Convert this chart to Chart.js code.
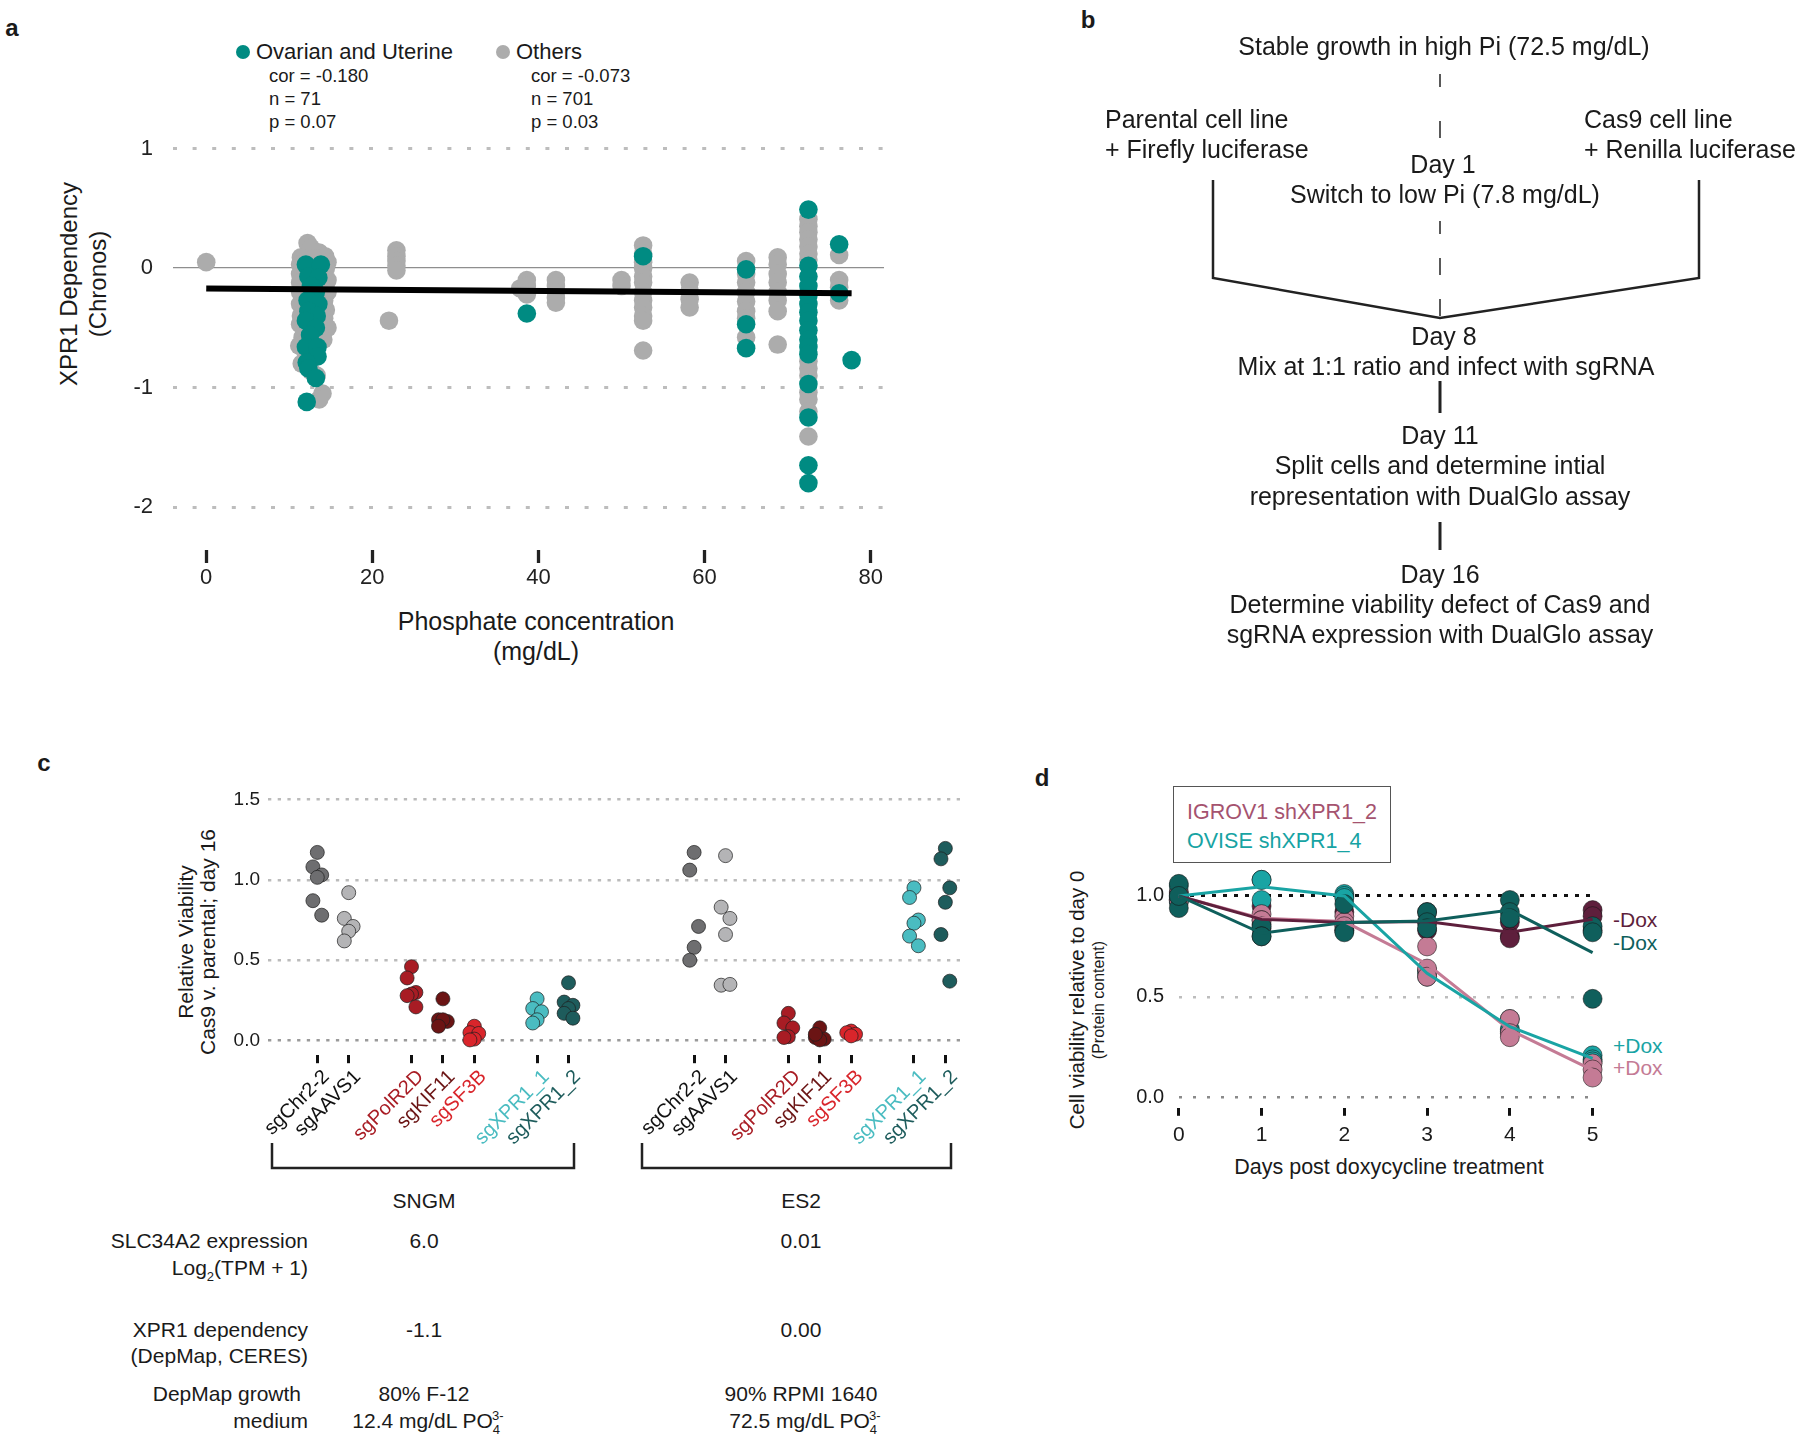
<!DOCTYPE html>
<html>
<head>
<meta charset="utf-8">
<script src="https://cdn.jsdelivr.net/npm/chart.js@4.4.1/dist/chart.umd.min.js"></script>
<style>
body { margin: 0; background: #fff; }
#page { position: relative; width: 1800px; height: 1442px; overflow: hidden; font-family: "Liberation Sans", Arial, sans-serif; color: #1a1a1a; }
canvas { position: absolute; }
.t { position: absolute; white-space: nowrap; line-height: 1; }
.c { transform: translate(-50%, -50%); }
.r { transform: translate(-100%, -50%); }
.l { transform: translate(0, -50%); }
.v { transform: translate(-50%, -50%) rotate(-90deg); }
.lab { font-weight: bold; font-size: 24px; }
.dot { position: absolute; width: 14px; height: 14px; border-radius: 50%; }
.sub { font-size: 13px; position: relative; top: 6px; }
.sup { font-size: 13px; position: relative; top: -8px; margin-left: -8px; }
.fb { font-size: 25px; background: #fff; }
.tb { font-size: 21px; }
</style>
</head>
<body>
<div id="page">

<!-- panel a -->
<div class="t c lab" style="left:12px;top:28px">a</div>
<div class="dot" style="left:236px;top:45px;background:#008B82"></div>
<div class="t l" style="left:256px;top:52px;font-size:22px">Ovarian and Uterine</div>
<div class="dot" style="left:496px;top:45px;background:#ACACAC"></div>
<div class="t l" style="left:516px;top:52px;font-size:22px">Others</div>
<div class="t l" style="left:269px;top:76px;font-size:18.5px">cor = -0.180</div>
<div class="t l" style="left:269px;top:99px;font-size:18.5px">n = 71</div>
<div class="t l" style="left:269px;top:122px;font-size:18.5px">p = 0.07</div>
<div class="t l" style="left:531px;top:76px;font-size:18.5px">cor = -0.073</div>
<div class="t l" style="left:531px;top:99px;font-size:18.5px">n = 701</div>
<div class="t l" style="left:531px;top:122px;font-size:18.5px">p = 0.03</div>
<div class="t v" style="left:69px;top:284px;font-size:24px">XPR1 Dependency</div>
<div class="t v" style="left:98px;top:284px;font-size:24px">(Chronos)</div>
<div class="t c" style="left:536px;top:621px;font-size:25px">Phosphate concentration</div>
<div class="t c" style="left:536px;top:651px;font-size:25px">(mg/dL)</div>
<canvas id="chartA" width="900" height="700" style="left:0;top:0"></canvas>

<!-- panel b -->
<div class="t c lab" style="left:1088px;top:20px">b</div>
<svg style="position:absolute;left:0;top:0" width="1800" height="700">
  <g stroke="#222" fill="none">
    <line x1="1440" y1="74" x2="1440" y2="87" stroke-width="1.5"/>
    <line x1="1440" y1="121" x2="1440" y2="138" stroke-width="1.5"/>
    <line x1="1440" y1="221" x2="1440" y2="234" stroke-width="1.5"/>
    <line x1="1440" y1="258" x2="1440" y2="275" stroke-width="1.5"/>
    <line x1="1440" y1="299" x2="1440" y2="316" stroke-width="1.5"/>
    <polyline points="1213,180 1213,278 1440,318 1699,278 1699,180" stroke-width="2.5"/>
    <line x1="1440" y1="381" x2="1440" y2="413" stroke-width="3"/>
    <line x1="1440" y1="522" x2="1440" y2="550" stroke-width="3"/>
  </g>
</svg>
<div class="t c fb" style="left:1444px;top:46px">Stable growth in high Pi (72.5 mg/dL)</div>
<div class="t l fb" style="left:1105px;top:119px">Parental cell line</div>
<div class="t l fb" style="left:1105px;top:149px">+ Firefly luciferase</div>
<div class="t l fb" style="left:1584px;top:119px">Cas9 cell line</div>
<div class="t l fb" style="left:1584px;top:149px">+ Renilla luciferase</div>
<div class="t c fb" style="left:1443px;top:164px">Day 1</div>
<div class="t c fb" style="left:1445px;top:194px">Switch to low Pi (7.8 mg/dL)</div>
<div class="t c fb" style="left:1444px;top:336px">Day 8</div>
<div class="t c fb" style="left:1446px;top:366px">Mix at 1:1 ratio and infect with sgRNA</div>
<div class="t c fb" style="left:1440px;top:435px">Day 11</div>
<div class="t c fb" style="left:1440px;top:465px">Split cells and determine intial</div>
<div class="t c fb" style="left:1440px;top:496px">representation with DualGlo assay</div>
<div class="t c fb" style="left:1440px;top:574px">Day 16</div>
<div class="t c fb" style="left:1440px;top:604px">Determine viability defect of Cas9 and</div>
<div class="t c fb" style="left:1440px;top:634px">sgRNA expression with DualGlo assay</div>

<!-- panel c -->
<div class="t c lab" style="left:44px;top:763px">c</div>
<div class="t v" style="left:185px;top:942px;font-size:21px">Relative Viability</div>
<div class="t v" style="left:207px;top:942px;font-size:21px">Cas9 v. parental; day 16</div>
<canvas id="chartC" width="1000" height="400" style="left:0;top:760px"></canvas>
<svg style="position:absolute;left:0;top:1130px" width="1000" height="50">
  <g stroke="#222" fill="none" stroke-width="2.5">
    <polyline points="272,13 272,38 574,38 574,13"/>
    <polyline points="642,13 642,38 951,38 951,13"/>
  </g>
</svg>
<div class="t c tb" style="left:424px;top:1200px">SNGM</div>
<div class="t c tb" style="left:801px;top:1200px">ES2</div>
<div class="t r tb" style="left:308px;top:1240px">SLC34A2 expression</div>
<div class="t r tb" style="left:308px;top:1267px">Log<span class="sub">2</span>(TPM + 1)</div>
<div class="t c tb" style="left:424px;top:1240px">6.0</div>
<div class="t c tb" style="left:801px;top:1240px">0.01</div>
<div class="t r tb" style="left:308px;top:1329px">XPR1 dependency</div>
<div class="t r tb" style="left:308px;top:1355px">(DepMap, CERES)</div>
<div class="t c tb" style="left:424px;top:1329px">-1.1</div>
<div class="t c tb" style="left:801px;top:1329px">0.00</div>
<div class="t r tb" style="left:301px;top:1393px">DepMap growth</div>
<div class="t r tb" style="left:308px;top:1420px">medium</div>
<div class="t c tb" style="left:424px;top:1393px">80% F-12</div>
<div class="t c tb" style="left:428px;top:1420px">12.4 mg/dL PO<span class="sub">4</span><span class="sup">3-</span></div>
<div class="t c tb" style="left:801px;top:1393px">90% RPMI 1640</div>
<div class="t c tb" style="left:805px;top:1420px">72.5 mg/dL PO<span class="sub">4</span><span class="sup">3-</span></div>

<!-- panel d -->
<div class="t c lab" style="left:1042px;top:778px">d</div>
<div style="position:absolute;left:1173px;top:786px;width:216px;height:75px;border:1.5px solid #555"></div>
<div class="t l" style="left:1187px;top:813px;font-size:21.5px;color:#A5536F">IGROV1 shXPR1_2</div>
<div class="t l" style="left:1187px;top:842px;font-size:21.5px;color:#17A3A3">OVISE shXPR1_4</div>
<div class="t v" style="left:1077px;top:1000px;font-size:20.5px">Cell viability relative to day 0</div>
<div class="t v" style="left:1099px;top:1000px;font-size:16px">(Protein content)</div>
<div class="t c" style="left:1389px;top:1168px;font-size:21.5px">Days post doxycycline treatment</div>
<div class="t l" style="left:1613px;top:919px;font-size:21px;color:#5E1F3C">-Dox</div>
<div class="t l" style="left:1613px;top:942px;font-size:21px;color:#0F5F5C">-Dox</div>
<div class="t l" style="left:1613px;top:1045px;font-size:21px;color:#19A4A4">+Dox</div>
<div class="t l" style="left:1613px;top:1067px;font-size:21px;color:#C47B95">+Dox</div>
<canvas id="chartD" width="520" height="320" style="left:1100px;top:840px"></canvas>

</div>
<script>
// ---- panel a: XPR1 dependency vs phosphate ----
const ovuX = [12.0, 13.8, 12.3, 13.5, 12.6, 13.2, 12.2, 13.5, 12.3, 13.3, 12.0, 13.2, 12.5, 12.0, 13.4, 13.4, 12.1, 12.3, 13.2, 12.1,
  38.6, 52.6, 65.0, 65.0, 65.0,
  72.5, 72.5, 72.5, 72.5, 72.5, 72.5, 72.5, 72.5, 72.5, 72.5, 72.5, 72.5, 72.5, 72.5, 72.5, 72.5,
  76.2, 76.2, 77.7];
const ovuY = [0.03, 0.03, -0.07, -0.08, -0.15, -0.2, -0.27, -0.3, -0.36, -0.4, -0.44, -0.5, -0.56, -0.66, -0.66, -0.74, -0.79, -0.84, -0.92, -1.12,
  -0.38, 0.1, -0.01, -0.47, -0.67,
  0.49, 0.02, -0.07, -0.15, -0.23, -0.3, -0.37, -0.44, -0.52, -0.6, -0.66, -0.72, -0.97, -1.25, -1.65, -1.8,
  0.2, -0.21, -0.77];
const othX = [0,
  12.2, 12.6, 13.6, 14.3, 11.4, 12.9, 14.6, 11.3, 14.4, 11.3, 14.6, 11.3, 14.6, 11.3, 14.2, 11.3, 14.4, 11.4, 14.2, 11.3, 14.6, 11.6, 14.1, 11.2, 12.0, 11.5, 12.6, 13.3, 14.0, 13.6, 11.8, 12.8,
  22.0, 22.9, 22.9, 22.9, 22.9, 22.9,
  37.8, 38.6, 38.6, 38.6,
  42.1, 42.1, 42.1, 42.1, 42.1,
  50.0, 50.0,
  52.6, 52.6, 52.6, 52.6, 52.6, 52.6, 52.6, 52.6, 52.6, 52.6, 52.6, 52.6,
  58.2, 58.2, 58.2, 58.2,
  65.0, 65.0, 65.0, 65.0, 65.0, 65.0, 65.0, 65.0,
  68.8, 68.8, 68.8, 68.8, 68.8, 68.8, 68.8, 68.8,
  72.5, 72.5, 72.5, 72.5, 72.5, 72.5, 72.5, 72.5, 72.5, 72.5, 72.5, 72.5, 72.5, 72.5,
  76.2, 76.2, 76.2, 76.2];
const othY = [0.05,
  0.21, 0.17, 0.13, 0.1, 0.09, 0.08, 0.05, 0.03, 0.0, -0.05, -0.1, -0.12, -0.2, -0.2, -0.27, -0.3, -0.35, -0.4, -0.42, -0.47, -0.5, -0.58, -0.6, -0.65, -0.72, -0.8, -0.86, -0.9, -1.05, -1.1, -0.35, -0.05,
  -0.44, 0.15, 0.1, 0.06, 0.02, -0.02,
  -0.17, -0.1, -0.15, -0.22,
  -0.1, -0.15, -0.2, -0.25, -0.29,
  -0.1, -0.15,
  0.19, 0.12, 0.05, 0.0, -0.07, -0.12, -0.2, -0.27, -0.33, -0.4, -0.44, -0.69,
  -0.12, -0.19, -0.26, -0.33,
  0.06, -0.05, -0.12, -0.2, -0.28, -0.36, -0.42, -0.58,
  0.09, 0.03, -0.05, -0.12, -0.2, -0.27, -0.36, -0.64,
  0.41, 0.35, 0.3, 0.24, 0.18, 0.12, 0.07, -0.78, -0.84, -0.9, -1.04, -1.1, -1.2, -1.41,
  0.11, -0.1, -0.16, -0.27];
const fitX = [0, 77.7];
const fitY = [-0.17, -0.21];
const xTicksA = [0, 20, 40, 60, 80];
const yTicksA = [1, 0, -1, -2];

// ---- panel c: relative viability per sgRNA ----
const slotLabels = ['sgChr2-2', 'sgAAVS1', '', 'sgPolR2D', 'sgKIF11', 'sgSF3B', '', 'sgXPR1_1', 'sgXPR1_2', '', '', '',
  'sgChr2-2', 'sgAAVS1', '', 'sgPolR2D', 'sgKIF11', 'sgSF3B', '', 'sgXPR1_1', 'sgXPR1_2'];
const guides = ['sgChr2-2', 'sgAAVS1', 'sgPolR2D', 'sgKIF11', 'sgSF3B', 'sgXPR1_1', 'sgXPR1_2'];
const sngmViability = [
  [1.17, 1.08, 1.03, 1.015, 0.87, 0.78],
  [0.92, 0.76, 0.71, 0.68, 0.62],
  [0.46, 0.39, 0.30, 0.29, 0.28, 0.21],
  [0.26, 0.13, 0.12, 0.13, 0.09],
  [0.09, 0.05, 0.045, 0.01, 0.005],
  [0.26, 0.20, 0.18, 0.13, 0.11],
  [0.36, 0.24, 0.22, 0.20, 0.17, 0.14]
];
const es2Viability = [
  [1.17, 1.06, 0.71, 0.58, 0.50],
  [1.15, 0.83, 0.76, 0.66, 0.345, 0.35],
  [0.17, 0.11, 0.08, 0.025, 0.02],
  [0.08, 0.02, 0.01, 0.005, 0.04],
  [0.06, 0.05, 0.04, 0.03],
  [0.95, 0.89, 0.75, 0.73, 0.65, 0.59],
  [1.195, 1.13, 0.95, 0.86, 0.66, 0.37]
];
const yTicksC = [0, 0.5, 1, 1.5];

// ---- panel d: viability over doxycycline time course ----
const days = [0, 1, 2, 3, 4, 5];
const igrovMinusMean = [1.0, 0.884, 0.868, 0.873, 0.82, 0.885];
const igrovPlusMean = [1.0, 0.889, 0.873, 0.663, 0.336, 0.137];
const oviseMinusMean = [1.0, 0.815, 0.868, 0.876, 0.93, 0.719];
const ovisePlusMean = [1.0, 1.046, 1.0, 0.617, 0.352, 0.195];
const igrovMinusReps = [[1.02, 0.99, 0.98], [0.95, 0.86, 0.84], [0.92, 0.86, 0.83], [0.92, 0.87, 0.83], [0.87, 0.80, 0.79], [0.93, 0.90, 0.83]];
const igrovPlusReps = [[1.01, 0.98, 1.0], [0.91, 0.88, 0.88], [0.90, 0.87, 0.85], [0.75, 0.64, 0.60], [0.39, 0.32, 0.30], [0.17, 0.14, 0.10]];
const oviseMinusReps = [[1.06, 0.94, 1.0], [0.85, 0.80, 0.80], [0.96, 0.83, 0.82], [0.92, 0.87, 0.84], [0.98, 0.92, 0.89], [0.85, 0.82, 0.49]];
const ovisePlusReps = [[1.05, 0.98, 0.97], [1.08, 1.08, 0.98], [1.01, 1.0, 0.99], [0.63, 0.62, 0.60], [0.39, 0.34, 0.33], [0.21, 0.19, 0.18]];
const yTicksD = [0, 0.5, 1];

Chart.defaults.font.family = '"Liberation Sans", Arial, sans-serif';
Chart.defaults.color = '#1a1a1a';

const base = {
  responsive: false,
  animation: false,
  events: [],
  plugins: { legend: { display: false }, tooltip: { enabled: false } }
};
const setTicks = list => scale => { scale.ticks = list.map(v => ({ value: v })); };
const zip = (xs, ys) => xs.map((x, i) => ({ x: x, y: ys[i] }));

// panel a
new Chart(document.getElementById('chartA'), {
  type: 'scatter',
  data: {
    datasets: [
      { data: zip(fitX, fitY), showLine: true, borderColor: '#000', borderWidth: 6, pointRadius: 0, order: 0, clip: false },
      { data: zip(ovuX, ovuY), backgroundColor: '#008B82', pointRadius: 9.3, borderWidth: 0, order: 1, clip: false },
      { data: zip(othX, othY), backgroundColor: '#ACACAC', pointRadius: 9.3, borderWidth: 0, order: 2, clip: false }
    ]
  },
  options: {
    ...base,
    layout: { padding: { top: 148.7, right: 16, left: 0, bottom: 0 } },
    scales: {
      x: {
        type: 'linear', min: -4, max: 81.6,
        afterBuildTicks: setTicks(xTicksA),
        afterFit: s => { s.height = 150; },
        grid: { drawOnChartArea: false, drawTicks: true, tickLength: 13, tickWidth: 3.3, tickColor: '#222' },
        border: { display: false },
        ticks: { padding: 2, color: '#222', font: { size: 22 }, autoSkip: false, maxRotation: 0 }
      },
      y: {
        min: -2.36, max: 1,
        afterBuildTicks: setTicks(yTicksA),
        afterFit: s => { s.width = 173; },
        grid: {
          drawTicks: false,
          color: c => (c.tick && c.tick.value === 0) ? '#8E8E8E' : '#BDBDBD',
          lineWidth: c => (c.tick && c.tick.value === 0) ? 1.3 : 3
        },
        border: { display: false, dash: c => (c.tick && c.tick.value === 0) ? [] : [4, 15.6] },
        ticks: { padding: 20, color: '#222', font: { size: 22 } }
      }
    }
  }
});

// panel c
const guideColors = ['#6E6E70', '#B4B4B6', '#A81C24', '#6B1414', '#D9252B', '#4ABCC1', '#1E5C5C'];
const labelColors = ['#111', '#111', '#A81C24', '#6B1414', '#D9252B', '#4ABCC1', '#1E5C5C'];
const jitter = [0, -0.14, 0.14, 0, -0.14, 0.14];
const cDatasets = guides.map((g, gi) => {
  const s1 = slotLabels.indexOf(g);
  const s2 = slotLabels.lastIndexOf(g);
  const pts = sngmViability[gi].map((v, i) => ({ x: s1 + jitter[i % jitter.length], y: v }))
    .concat(es2Viability[gi].map((v, i) => ({ x: s2 + jitter[i % jitter.length], y: v })));
  return { data: pts, backgroundColor: guideColors[gi], borderColor: 'rgba(30,30,30,0.7)', borderWidth: 1, pointRadius: 7, clip: false };
});
new Chart(document.getElementById('chartC'), {
  type: 'scatter',
  data: { datasets: cDatasets },
  options: {
    ...base,
    layout: { padding: { top: 39.3, right: 38, left: 0, bottom: 0 } },
    scales: {
      x: {
        type: 'linear', min: -1.57, max: 20.53,
        afterBuildTicks: s => { s.ticks = slotLabels.map((l, i) => ({ value: i, l: l })).filter(t => t.l !== '').map(t => ({ value: t.value })); },
        afterFit: s => { s.height = 104.8; },
        grid: { drawOnChartArea: false, drawTicks: true, tickLength: 8, tickWidth: 3, tickColor: '#111' },
        border: { display: false },
        ticks: {
          autoSkip: false, minRotation: 45, maxRotation: 45, padding: 2, labelOffset: 9, font: { size: 20 },
          callback: v => slotLabels[v],
          color: c => labelColors[guides.indexOf(slotLabels[c.tick.value])]
        }
      },
      y: {
        min: -0.09, max: 1.5,
        afterBuildTicks: setTicks(yTicksC),
        afterFit: s => { s.width = 268; },
        grid: {
          drawTicks: false,
          color: c => (c.tick && c.tick.value === 0) ? '#9A9A9A' : '#BBBBBB',
          lineWidth: 2.5
        },
        border: { display: false, dash: [3.3, 6.4] },
        ticks: { padding: 8, color: '#1a1a1a', font: { size: 19 }, callback: v => v.toFixed(1) }
      }
    }
  }
});

// panel d
const dColors = { igrovMinus: '#5E1F3C', igrovPlus: '#C47B95', oviseMinus: '#0F5F5C', ovisePlus: '#19A4A4' };
const repPoints = reps => reps.flatMap((r, i) => r.map(v => ({ x: days[i], y: v })));
const meanLine = (vals, col, ord) => ({ data: zip(days, vals), showLine: true, borderColor: col, borderWidth: 3, pointRadius: 0, order: ord, clip: false });
const repSet = (reps, col, ord) => ({ data: repPoints(reps), backgroundColor: col, borderColor: 'rgba(20,20,20,0.55)', borderWidth: 1, pointRadius: 9.5, order: ord, clip: false });
new Chart(document.getElementById('chartD'), {
  type: 'scatter',
  data: {
    datasets: [
      meanLine(oviseMinusMean, dColors.oviseMinus, 0),
      meanLine(igrovMinusMean, dColors.igrovMinus, 1),
      meanLine(ovisePlusMean, dColors.ovisePlus, 2),
      meanLine(igrovPlusMean, dColors.igrovPlus, 3),
      repSet(oviseMinusReps, dColors.oviseMinus, 4),
      repSet(igrovPlusReps, dColors.igrovPlus, 5),
      repSet(ovisePlusReps, dColors.ovisePlus, 6),
      repSet(igrovMinusReps, dColors.igrovMinus, 7)
    ]
  },
  options: {
    ...base,
    layout: { padding: { top: 35.8, right: 27.4, left: 0, bottom: 0 } },
    scales: {
      x: {
        type: 'linear', min: 0, max: 5,
        afterBuildTicks: setTicks(days),
        afterFit: s => { s.height = 52.2; },
        grid: { drawOnChartArea: false, drawTicks: true, tickLength: 8, tickWidth: 3, tickColor: '#111' },
        border: { display: false },
        ticks: { padding: 7, color: '#1a1a1a', font: { size: 21 }, autoSkip: false, maxRotation: 0 }
      },
      y: {
        min: -0.05, max: 1.1,
        afterBuildTicks: setTicks(yTicksD),
        afterFit: s => { s.width = 78.8; },
        grid: {
          drawTicks: false,
          color: c => !c.tick ? '#BBB' : (c.tick.value === 1 ? '#111' : (c.tick.value === 0 ? '#8A8A8A' : '#BDBDBD')),
          lineWidth: c => (c.tick && c.tick.value === 1) ? 3 : 2.5
        },
        border: { display: false, dash: c => (c.tick && c.tick.value === 1) ? [4, 7] : [3, 11] },
        ticks: { padding: 14.8, color: '#1a1a1a', font: { size: 20 }, callback: v => v.toFixed(1) }
      }
    }
  }
});
</script>
</body>
</html>
